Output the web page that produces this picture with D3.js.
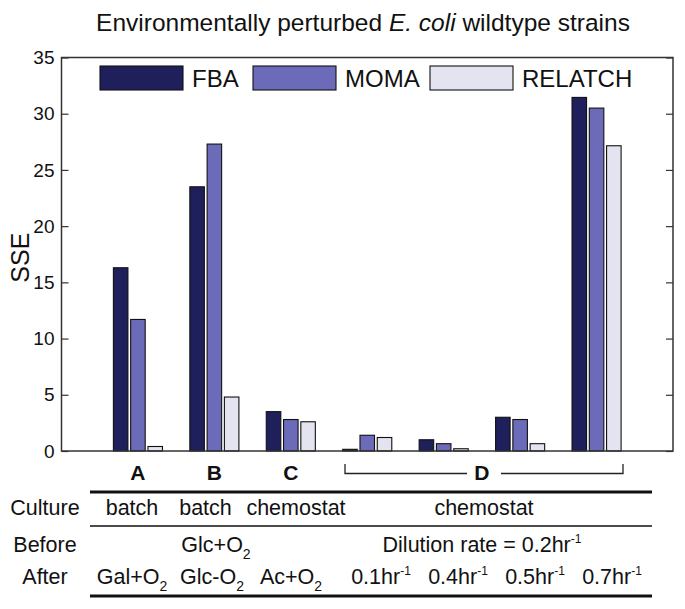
<!DOCTYPE html>
<html>
<head>
<meta charset="utf-8">
<script src="https://cdn.jsdelivr.net/npm/d3@7"></script>
<style>
  body { margin: 0; background: #fff; }
  text { font-family: "Liberation Sans", Arial, sans-serif; fill: #111; }
</style>
</head>
<body>
<svg id="chart" width="685" height="609"></svg>
<script>
// data
var series = ['FBA', 'MOMA', 'RELATCH'];
var conditions = ['A', 'B', 'C', 'D1', 'D2', 'D3', 'D4'];
var fba     = [16.3, 23.5, 3.5, 0.15, 1.0, 3.0, 31.45];
var moma    = [11.7, 27.3, 2.8, 1.4, 0.65, 2.8, 30.5];
var relatch = [0.4, 4.8, 2.6, 1.2, 0.2, 0.65, 27.15];
var yTicks = [0, 5, 10, 15, 20, 25, 30, 35];

var groupLabels = ['A', 'B', 'C'];
var cultureRow = ['batch', 'batch', 'chemostat', 'chemostat'];
var beforeRow = [['Glc+O', '2'], ['Dilution rate = 0.2hr', '-1']];
var afterRow = [['Gal+O', '2'], ['Glc-O', '2'], ['Ac+O', '2'],
                ['0.1hr', '-1'], ['0.4hr', '-1'], ['0.5hr', '-1'], ['0.7hr', '-1']];

var colors = ['#1f1f5c', '#6b6bb9', '#e4e4f1'];

var svg = d3.select('#chart');
var plotL = 61.5, plotR = 673, plotT = 57.5, plotB = 451;

var x = d3.scaleLinear().domain([0, 8]).range([plotL, plotR]);
var y = d3.scaleLinear().domain([0, 35]).range([plotB, plotT]);

var values = [fba, moma, relatch];
var barW = 0.19, step = 0.226;

// bars
values.forEach(function(vals, s) {
  svg.append('g').selectAll('rect')
    .data(vals)
    .enter().append('rect')
    .attr('x', function(d, i) { return x(i + 1 + (s - 1) * step - barW / 2); })
    .attr('width', x(barW) - x(0))
    .attr('y', function(d) { return y(d); })
    .attr('height', function(d) { return y(0) - y(d); })
    .attr('fill', colors[s])
    .attr('stroke', '#111')
    .attr('stroke-width', 1.1);
});

// axes
var yl = svg.append('g').attr('transform', 'translate(' + plotL + ',0)')
  .call(d3.axisLeft(y).tickValues(yTicks).tickSize(-7).tickPadding(7).tickFormat(d3.format('d')));
var yr = svg.append('g').attr('transform', 'translate(' + plotR + ',0)')
  .call(d3.axisRight(y).tickValues(yTicks).tickSize(-7).tickFormat(''));
[yl, yr].forEach(function(g) {
  g.select('.domain').remove();
  g.selectAll('line').attr('stroke', '#333').attr('stroke-width', 1.2);
  g.selectAll('text').style('font-size', '19px').attr('fill', '#111')
    .style('font-family', '"Liberation Sans", Arial, sans-serif');
});

svg.append('rect')
  .attr('x', plotL).attr('y', plotT)
  .attr('width', plotR - plotL).attr('height', plotB - plotT)
  .attr('fill', 'none').attr('stroke', '#333').attr('stroke-width', 1.5);

// y label
svg.append('text')
  .attr('transform', 'translate(29,' + (y(17.2)) + ') rotate(-90)')
  .attr('text-anchor', 'middle')
  .style('font-size', '25px')
  .text('SSE');

// title
var title = svg.append('text')
  .attr('x', 363).attr('y', 31)
  .attr('text-anchor', 'middle')
  .style('font-size', '24.5px');
title.append('tspan').text('Environmentally perturbed ');
title.append('tspan').style('font-style', 'italic').text('E. coli');
title.append('tspan').text(' wildtype strains');

// legend
var legX = [100, 253, 430];
series.forEach(function(name, s) {
  svg.append('rect')
    .attr('x', legX[s]).attr('y', 66)
    .attr('width', 83).attr('height', 24)
    .attr('fill', colors[s]).attr('stroke', '#111').attr('stroke-width', 1.1);
  svg.append('text')
    .attr('x', legX[s] + 92).attr('y', 87)
    .style('font-size', '24px')
    .text(name);
});

// group labels
groupLabels.forEach(function(g, i) {
  svg.append('text')
    .attr('x', x(i + 1)).attr('y', 480)
    .attr('text-anchor', 'middle')
    .style('font-size', '21px').style('font-weight', 'bold')
    .text(g);
});
var dMid = (x(4) + x(7)) / 2;
svg.append('text')
  .attr('x', dMid).attr('y', 480)
  .attr('text-anchor', 'middle')
  .style('font-size', '21px').style('font-weight', 'bold')
  .text('D');
svg.append('path')
  .attr('d', 'M345,464V473.5H467M501,473.5H623V464')
  .attr('fill', 'none').attr('stroke', '#222').attr('stroke-width', 1.3);

// table lines
var tl = 90, tr = 652;
[[492, 3], [526, 1.5], [596, 3]].forEach(function(l) {
  svg.append('line')
    .attr('x1', tl).attr('x2', tr).attr('y1', l[0]).attr('y2', l[0])
    .attr('stroke', '#111').attr('stroke-width', l[1]);
});

var rowHead = ['Culture', 'Before', 'After'];
var rowY = [515, 551.5, 584];
rowHead.forEach(function(h, i) {
  svg.append('text')
    .attr('x', 45).attr('y', rowY[i])
    .attr('text-anchor', 'middle')
    .style('font-size', '21.5px')
    .text(h);
});

function cell(cx, cy, parts) {
  var t = svg.append('text')
    .attr('x', cx).attr('y', cy)
    .attr('text-anchor', 'middle')
    .style('font-size', '21.5px');
  t.append('tspan').text(parts[0]);
  if (parts[1]) {
    var sup = parts[1] === '-1';
    t.append('tspan')
      .attr('dy', sup ? -9 : 7)
      .style('font-size', sup ? '12px' : '14px')
      .text(parts[1]);
  }
  return t;
}

var cultureX = [132, 205.5, 296, 484];
cultureRow.forEach(function(c, i) { cell(cultureX[i], rowY[0], [c]); });

var beforeX = [216, 482];
beforeRow.forEach(function(c, i) { cell(beforeX[i], rowY[1], c); });

var afterX = [132, 212, 291, 381, 458, 535, 612];
afterRow.forEach(function(c, i) { cell(afterX[i], rowY[2], c); });
</script>
</body>
</html>
